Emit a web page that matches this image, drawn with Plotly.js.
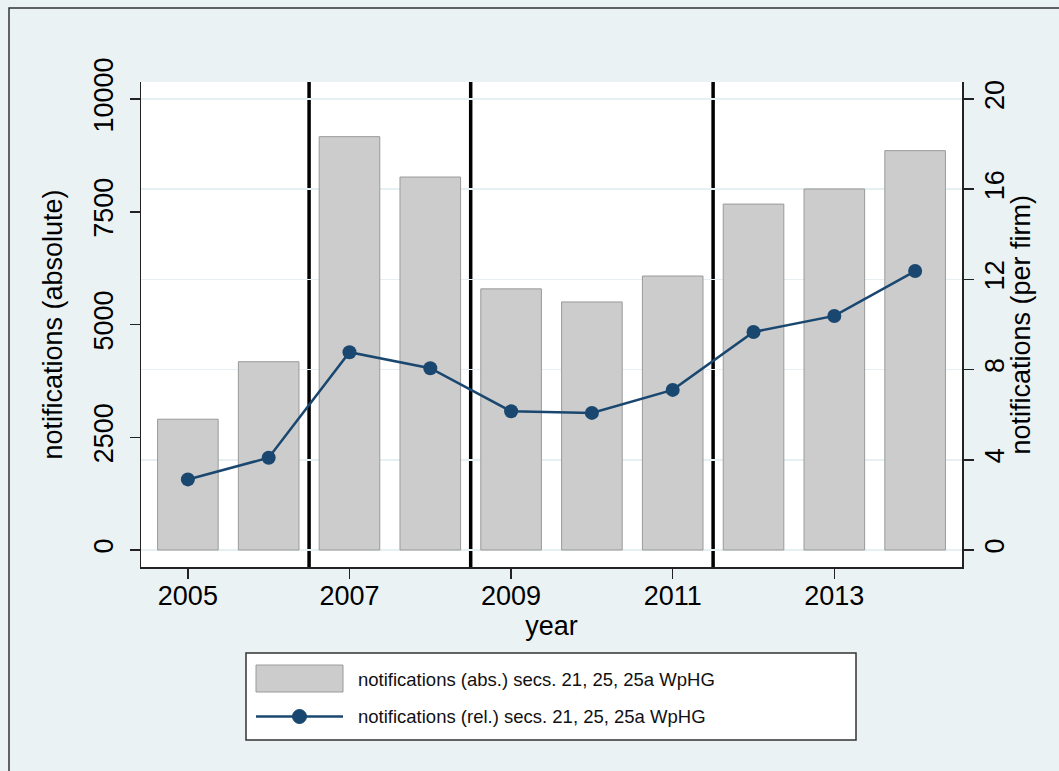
<!DOCTYPE html>
<html>
<head>
<meta charset="utf-8">
<script src="https://cdn.plot.ly/plotly-3.0.1.min.js"></script>
<style>
  html, body { margin: 0; padding: 0; background: #eaf2f3; }
  #chart { width: 1059px; height: 771px; }
</style>
</head>
<body>
<div id="chart"></div>
<script>
// Notifications under secs. 21, 25, 25a WpHG, by year
const years = [2005, 2006, 2007, 2008, 2009, 2010, 2011, 2012, 2013, 2014];
const absNotifications = [2900, 4175, 9165, 8270, 5790, 5500, 6075, 7670, 8005, 8855];
const relNotifications = [3.13, 4.09, 8.77, 8.06, 6.15, 6.08, 7.10, 9.67, 10.38, 12.37];

// Regulatory break points drawn as vertical rules between years
const breakYears = [2006.5, 2008.5, 2011.5];

const xTicks = [2005, 2007, 2009, 2011, 2013];
const leftTicks = [0, 2500, 5000, 7500, 10000];
const rightTicks = [0, 4, 8, 12, 16, 20];

const absLabel = 'notifications (abs.) secs. 21, 25, 25a WpHG';
const relLabel = 'notifications (rel.) secs. 21, 25, 25a WpHG';
const rightTitle = 'notifications (per firm)';

const W = 1059, H = 771;
const M = { l: 141, r: 97, t: 82, b: 204 };
const plotW = W - M.l - M.r, plotH = H - M.t - M.b;
// pixel -> paper coordinate helpers for the frame, legend box and right title
const px = v => (v - M.l) / plotW;
const py = v => (H - M.b - v) / plotH;

const FONT = '"Liberation Sans", Arial, Helvetica, sans-serif';
const NAVY = '#1a476f';
const BG = '#eaf2f3';
const FS = 27;

const traces = [
  {
    type: 'bar', x: years, y: absNotifications, name: absLabel,
    width: 0.75,
    marker: { color: '#cccccc', line: { color: '#9a9a9a', width: 1 } },
    yaxis: 'y', showlegend: false, hoverinfo: 'x+y'
  },
  {
    type: 'scatter', mode: 'lines+markers', x: years, y: relNotifications, name: relLabel,
    line: { color: NAVY, width: 2.5 },
    marker: { color: NAVY, size: 14 },
    yaxis: 'y2', showlegend: false
  }
];

const shapes = breakYears.map(b => ({
  type: 'line', xref: 'x', yref: 'paper', x0: b, x1: b, y0: 0, y1: 1,
  line: { color: '#000000', width: 3.5 }, layer: 'between'
}));

// outer frame
shapes.push({
  type: 'rect', xref: 'paper', yref: 'paper',
  x0: px(9), x1: px(1075), y0: py(790), y1: py(8),
  line: { color: '#333333', width: 1.5 }, fillcolor: 'rgba(0,0,0,0)', layer: 'below'
});

// legend box and keys
shapes.push({
  type: 'rect', xref: 'paper', yref: 'paper',
  x0: px(246), x1: px(856), y0: py(740), y1: py(653),
  line: { color: '#333333', width: 1.5 }, fillcolor: '#ffffff', layer: 'above'
});
shapes.push({
  type: 'rect', xref: 'paper', yref: 'paper',
  x0: px(256), x1: px(343), y0: py(692), y1: py(665),
  line: { color: '#9a9a9a', width: 1 }, fillcolor: '#cccccc', layer: 'above'
});
shapes.push({
  type: 'line', xref: 'paper', yref: 'paper',
  x0: px(256), x1: px(343), y0: py(716.5), y1: py(716.5),
  line: { color: NAVY, width: 2.5 }, layer: 'above'
});
shapes.push({
  type: 'circle', xref: 'paper', yref: 'paper',
  x0: px(292.5), x1: px(306.5), y0: py(723.5), y1: py(709.5),
  line: { color: NAVY, width: 1 }, fillcolor: NAVY, layer: 'above'
});

const annotations = [
  { text: absLabel, y: py(679.5) },
  { text: relLabel, y: py(716.5) }
].map(a => ({
  xref: 'paper', yref: 'paper', x: px(356), y: a.y, xanchor: 'left', yanchor: 'middle',
  text: a.text, showarrow: false, font: { family: FONT, size: 18.5, color: '#111111' }
}));

// title of the right-hand axis
annotations.push({
  xref: 'paper', yref: 'paper', x: px(1020), y: 0.5, xanchor: 'center', yanchor: 'middle',
  text: rightTitle, textangle: -90, showarrow: false,
  font: { family: FONT, size: FS, color: '#000000' }
});

const axisCommon = {
  showline: true, linecolor: '#222222', linewidth: 1.5,
  ticks: 'outside', ticklen: 10, tickwidth: 1.5, tickcolor: '#222222',
  tickfont: { family: FONT, size: FS, color: '#000000' },
  zeroline: false
};

const layout = {
  width: W, height: H,
  margin: M,
  paper_bgcolor: BG, plot_bgcolor: '#ffffff',
  font: { family: FONT, color: '#000000' },
  showlegend: false,
  bargap: 0.25,
  xaxis: Object.assign({}, axisCommon, {
    range: [2004.42, 2014.58], tickvals: xTicks, ticktext: xTicks.map(String),
    showgrid: false, ticklabelstandoff: -6,
    title: { text: 'year', font: { family: FONT, size: FS }, standoff: 2 }
  }),
  yaxis: Object.assign({}, axisCommon, {
    range: [-377, 10377], tickvals: leftTicks, ticktext: leftTicks.map(String),
    tickangle: -90, showgrid: false, ticklabelstandoff: 6,
    title: { text: 'notifications (absolute)', font: { family: FONT, size: FS }, standoff: 18 }
  }),
  yaxis2: Object.assign({}, axisCommon, {
    overlaying: 'y', side: 'right',
    range: [-0.754, 20.754], tickvals: rightTicks, ticktext: rightTicks.map(String),
    tickangle: -90, showgrid: true, gridcolor: '#e6eff1', gridwidth: 1.5,
    ticklabelstandoff: -2
  }),
  shapes: shapes,
  annotations: annotations
};

Plotly.newPlot('chart', traces, layout, { displayModeBar: false, staticPlot: true });
</script>
</body>
</html>
